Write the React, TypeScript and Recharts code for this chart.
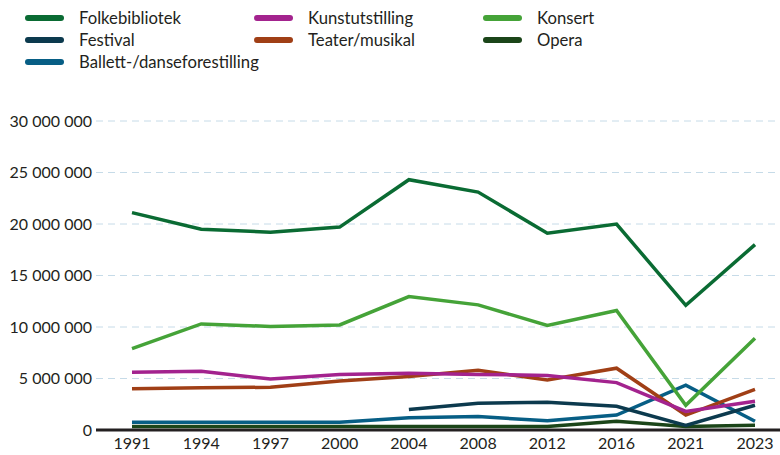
import React from "react";
import { LineChart, Line, XAxis, YAxis, CartesianGrid, Legend } from "recharts";

const years = ["1991", "1994", "1997", "2000", "2004", "2008", "2012", "2016", "2021", "2023"];

const folkebibliotek = [21.1, 19.5, 19.2, 19.7, 24.3, 23.1, 19.1, 20.0, 12.1, 18.0];
const kunstutstilling = [5.6, 5.7, 4.95, 5.4, 5.5, 5.4, 5.3, 4.6, 1.8, 2.8];
const konsert = [7.9, 10.3, 10.05, 10.2, 12.95, 12.15, 10.15, 11.6, 2.4, 8.9];
const festival = [null, null, null, null, 2.0, 2.6, 2.7, 2.3, 0.45, 2.4];
const teater = [4.0, 4.1, 4.15, 4.75, 5.2, 5.8, 4.85, 6.0, 1.45, 3.95];
const opera = [0.35, 0.35, 0.35, 0.35, 0.35, 0.35, 0.35, 0.85, 0.35, 0.45];
const ballett = [0.75, 0.75, 0.75, 0.75, 1.2, 1.3, 0.9, 1.45, 4.35, 0.85];

const yTicks = [0, 5000000, 10000000, 15000000, 20000000, 25000000, 30000000];

const series = [
  { key: "folkebibliotek", name: "Folkebibliotek", color: "#0a6b33", values: folkebibliotek },
  { key: "kunstutstilling", name: "Kunstutstilling", color: "#a3238e", values: kunstutstilling },
  { key: "konsert", name: "Konsert", color: "#45a338", values: konsert },
  { key: "festival", name: "Festival", color: "#0c3a4e", values: festival },
  { key: "teater", name: "Teater/musikal", color: "#a03f16", values: teater },
  { key: "opera", name: "Opera", color: "#1b4519", values: opera },
  { key: "ballett", name: "Ballett-/danseforestilling", color: "#075e85", values: ballett },
];

// draw order so overlaps match reference
const drawOrder = ["opera", "ballett", "festival", "teater", "kunstutstilling", "konsert", "folkebibliotek"];

const data = years.map((y, i) => {
  const row: Record<string, any> = { year: y };
  series.forEach((s) => {
    const v = s.values[i];
    row[s.key] = v == null ? null : v * 1000000;
  });
  return row;
});

const fmt = (v: number) => (v === 0 ? "0" : Math.round(v).toString().replace(/\B(?=(\d{3})+(?!\d))/g, " "));

const FONT = "Lato, 'Noto Sans', sans-serif";

const LegendContent = () => {
  const colX = [25, 254, 483];
  return (
    <div style={{ position: "absolute", left: 0, top: 0, width: 780, height: 80 }}>
      {series.map((s, i) => {
        const col = i % 3;
        const row = Math.floor(i / 3);
        return (
          <div
            key={s.key}
            style={{
              position: "absolute",
              left: colX[col],
              top: 7 + row * 22,
              display: "flex",
              alignItems: "center",
              height: 22,
              fontFamily: FONT,
              fontSize: 16.7,
              color: "#231f20",
              whiteSpace: "nowrap",
            }}
          >
            <span
              style={{
                display: "inline-block",
                width: 39,
                height: 6,
                borderRadius: 3,
                background: s.color,
                marginRight: 15,
              }}
            />
            <span>{s.name}</span>
          </div>
        );
      })}
    </div>
  );
};

export default function App() {
  return (
    <div style={{ position: "absolute", left: 0, top: 0, width: 780, height: 455 }}>
      <LineChart width={780} height={455} data={data} margin={{ top: 121, right: 0, bottom: 0, left: 0 }}>
        <CartesianGrid vertical={false} stroke="#c6dbe8" strokeDasharray="7 5" strokeWidth={1} />
        <XAxis
          dataKey="year"
          padding={{ left: 36, right: 25 }}
          height={25}
          tickLine={false}
          tickSize={0}
          tickMargin={8}
          axisLine={{ stroke: "#231f20", strokeWidth: 3 }}
          tick={{ fill: "#231f20", fontSize: 16, fontFamily: FONT }}
          interval={0}
        />
        <YAxis
          domain={[0, 30000000]}
          ticks={yTicks}
          width={96}
          axisLine={false}
          tickLine={false}
          tickSize={0}
          tickMargin={4}
          tickFormatter={fmt}
          tick={{ fill: "#231f20", fontSize: 16, fontFamily: FONT }}
        />
        <Legend content={<LegendContent />} wrapperStyle={{ position: "absolute", left: 0, top: 0 }} />
        {drawOrder.map((k) => {
          const s = series.find((x) => x.key === k)!;
          return (
            <Line
              key={s.key}
              type="linear"
              dataKey={s.key}
              name={s.name}
              stroke={s.color}
              strokeWidth={3.5}
              dot={false}
              activeDot={false}
              isAnimationActive={false}
              connectNulls={false}
            />
          );
        })}
      </LineChart>
    </div>
  );
}
